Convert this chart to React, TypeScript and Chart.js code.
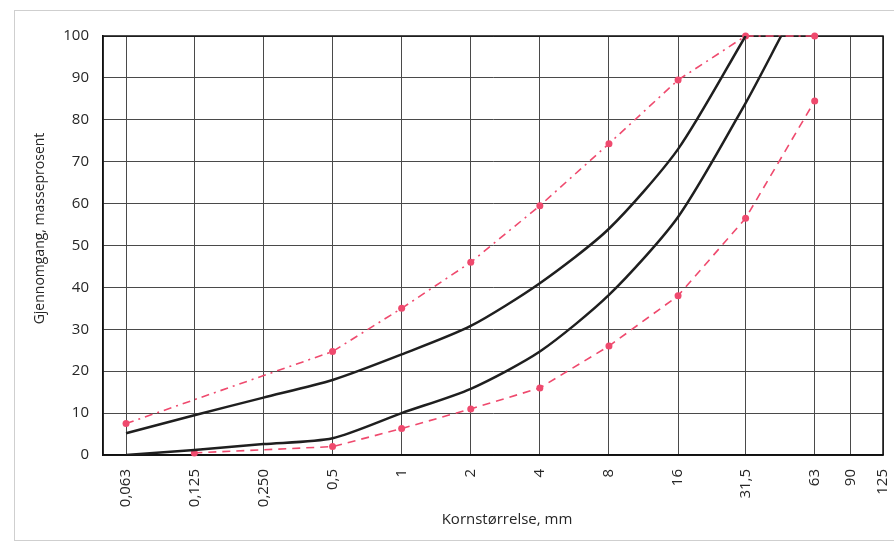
import { useEffect, useRef } from "react";
import { Chart, registerables } from "chart.js";

Chart.register(...registerables);

// Tick positions (mm) and their labels
const tickSizes = [0.063, 0.125, 0.25, 0.5, 1, 2, 4, 8, 16, 31.5, 63, 90, 125];
const tickLabels = ["0,063", "0,125", "0,250", "0,5", "1", "2", "4", "8", "16", "31,5", "63", "90", "125"];

// Black curve (upper / fine)
const fineSizes = [0.063, 0.125, 0.25, 0.5, 1, 2, 4, 8, 16, 31.5];
const fineValues = [5.2, 9.5, 13.7, 17.9, 24, 30.8, 41, 54, 73, 100];

// Black curve (lower / coarse)
const coarseSizes = [0.063, 0.125, 0.25, 0.5, 1, 2, 4, 8, 16, 31.5, 45];
const coarseValues = [0, 1.2, 2.6, 4, 10, 15.8, 24.7, 38.2, 56.8, 84, 100];

// Red dashed upper envelope
const upperRedSizes = [0.063, 0.5, 1, 2, 4, 8, 16, 31.5, 63];
const upperRedValues = [7.5, 24.7, 35, 46, 59.5, 74.3, 89.5, 100, 100];

// Red dashed lower envelope
const lowerRedSizes = [0.125, 0.5, 1, 2, 4, 8, 16, 31.5, 63];
const lowerRedValues = [0.5, 2, 6.3, 11, 16, 26, 38, 56.5, 84.5];

const xTitle = "Kornstørrelse, mm";
const yTitle = "Gjennomgang, masseprosent";

const FONT = "'Open Sans', 'Liberation Sans', Arial, sans-serif";
const RED = "#ef4a6e";
const BLACK = "#1f1f1f";
const GRID = "#4a4a4a";
const TEXT = "#262626";

const toPoints = (xs: number[], ys: number[]) => xs.map((x, i) => ({ x, y: ys[i] }));

const decorPlugin = {
  id: "decor",
  beforeDraw(chart: any) {
    const { ctx, width, height } = chart;
    ctx.save();
    ctx.fillStyle = "#ffffff";
    ctx.fillRect(0, 0, width, height);
    ctx.strokeStyle = "#cfcfcf";
    ctx.lineWidth = 1;
    ctx.strokeRect(14.5, 10.5, width + 20, height - 13);
    ctx.restore();
  },
  beforeDatasetsDraw(chart: any) {
    const { ctx, chartArea } = chart;
    ctx.save();
    ctx.strokeStyle = "#111111";
    ctx.lineWidth = 1.5;
    ctx.strokeRect(chartArea.left, chartArea.top, chartArea.right - chartArea.left, chartArea.bottom - chartArea.top);
    ctx.restore();
  },
  afterDraw(chart: any) {
    const { ctx, chartArea } = chart;
    ctx.save();
    ctx.fillStyle = TEXT;
    ctx.textAlign = "center";
    ctx.textBaseline = "middle";
    ctx.font = `15px ${FONT}`;
    ctx.fillText(xTitle, (chartArea.left + chartArea.right) / 2 + 14, chartArea.bottom + 65);
    ctx.translate(40, (chartArea.top + chartArea.bottom) / 2 - 17);
    ctx.rotate(-Math.PI / 2);
    ctx.font = `14px ${FONT}`;
    ctx.fillText(yTitle, 0, 0);
    ctx.restore();
  },
};

export default function App() {
  const ref = useRef<HTMLCanvasElement | null>(null);

  useEffect(() => {
    if (!ref.current) return;
    const chart = new Chart(ref.current, {
      type: "line",
      data: {
        datasets: [
          {
            label: "fine",
            data: toPoints(fineSizes, fineValues),
            borderColor: BLACK,
            borderWidth: 2.5,
            pointRadius: 0,
            tension: 0.25,
          },
          {
            label: "coarse",
            data: toPoints(coarseSizes, coarseValues),
            borderColor: BLACK,
            borderWidth: 2.5,
            pointRadius: 0,
            tension: 0.25,
          },
          {
            label: "upper",
            data: toPoints(upperRedSizes, upperRedValues),
            borderColor: RED,
            backgroundColor: RED,
            borderWidth: 1.6,
            borderDash: [8, 5, 2, 5],
            pointRadius: 3.5,
            pointBorderWidth: 0,
            pointBackgroundColor: RED,
            clip: false,
          },
          {
            label: "lower",
            data: toPoints(lowerRedSizes, lowerRedValues),
            borderColor: RED,
            backgroundColor: RED,
            borderWidth: 1.6,
            borderDash: [8, 6],
            pointRadius: 3.5,
            pointBorderWidth: 0,
            pointBackgroundColor: RED,
            clip: false,
          },
        ],
      },
      options: {
        animation: false,
        responsive: false,
        layout: { padding: { top: 36, right: 11, left: 0, bottom: 0 } },
        plugins: {
          legend: { display: false },
          tooltip: { enabled: false },
        },
        scales: {
          x: {
            type: "logarithmic",
            min: 0.05,
            max: 125,
            afterBuildTicks: (s: any) => {
              s.ticks = tickSizes.map((v) => ({ value: v }));
            },
            afterFit: (s: any) => {
              s.height = 88;
              s.paddingLeft = 0;
              s.paddingRight = 0;
            },
            ticks: {
              autoSkip: false,
              minRotation: 90,
              maxRotation: 90,
              padding: 14,
              color: TEXT,
              font: { family: FONT, size: 15 },
              callback: (_v: any, i: number) => tickLabels[i],
            },
            grid: { color: GRID, lineWidth: 1, drawTicks: false },
            border: { color: "#111111", width: 1.5 },
          },
          y: {
            min: 0,
            max: 100,
            afterFit: (s: any) => {
              s.width = 103;
              s.paddingTop = 0;
              s.paddingBottom = 0;
            },
            ticks: {
              stepSize: 10,
              padding: 14,
              color: TEXT,
              font: { family: FONT, size: 15 },
            },
            grid: { color: GRID, lineWidth: 1, drawTicks: false },
            border: { color: "#111111", width: 1.5 },
          },
        },
      },
      plugins: [decorPlugin],
    } as any);
    return () => chart.destroy();
  }, []);

  return (
    <div style={{ position: "absolute", left: 0, top: 0, width: 894, height: 543, background: "#fff" }}>
      <canvas ref={ref} width={894} height={543} style={{ display: "block" }} />
    </div>
  );
}
